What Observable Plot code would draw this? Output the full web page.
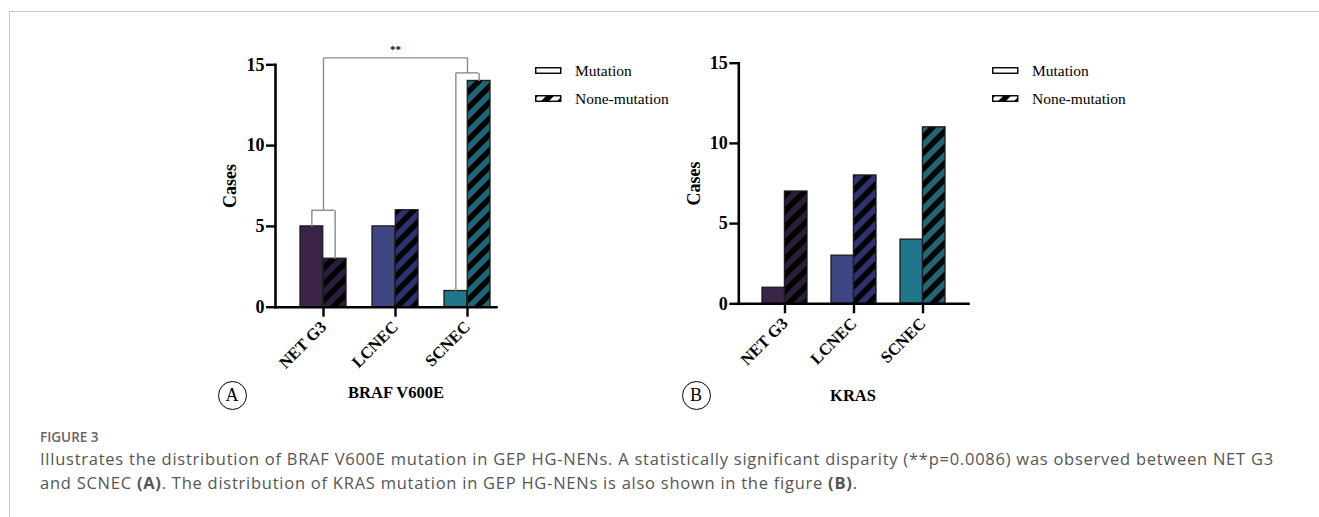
<!DOCTYPE html>
<html>
<head>
<meta charset="utf-8">
<script src="https://cdn.jsdelivr.net/npm/d3@7"></script>
<script src="https://cdn.jsdelivr.net/npm/@observablehq/plot@0.6"></script>
<style>
html, body { margin: 0; padding: 0; background: #fff; }
#fig { position: relative; width: 1319px; height: 517px; overflow: hidden; font-family: "Liberation Serif", serif; color: #000; }
.border { position: absolute; left: 9px; top: 11px; width: 1330px; height: 520px; border-top: 1px solid #c8c8c8; border-left: 1px solid #c8c8c8; }
.leg { position: absolute; font-size: 15.5px; line-height: 18px; white-space: nowrap; }
.leg svg { position: absolute; }
.leg span { position: absolute; }
.circ { position: absolute; box-sizing: border-box; width: 29px; height: 29px; border: 1.6px solid #000; border-radius: 50%; text-align: center; font-size: 18px; line-height: 27px; }
.ptitle { position: absolute; font-weight: bold; font-size: 16.5px; transform: translateX(-50%); white-space: nowrap; }
.cap { position: absolute; left: 40px; font-family: "Open Sans", sans-serif; color: #555; white-space: nowrap; }
#figno { top: 428px; font-size: 13.5px; line-height: 18px; font-weight: 600; color: #666; }
#captext { top: 447px; font-size: 16.5px; letter-spacing: 0.75px; line-height: 24px; }
</style>
</head>
<body>
<svg width="0" height="0" style="position:absolute">
  <defs>
    <pattern id="hatch" patternUnits="userSpaceOnUse" width="16" height="16">
      <path d="M-4,4 L4,-4 M0,16 L16,0 M12,20 L20,12" stroke="#000" stroke-width="5.5"/>
    </pattern>
  </defs>
</svg>
<div id="fig">
  <div class="border"></div>
</div>
<script>
// ---- data ----
const categories = ["NET G3", "LCNEC", "SCNEC"];
const legendLabels = ["Mutation", "None-mutation"];
const brafMutation = [5, 5, 1];
const brafNone = [3, 6, 14];
const krasMutation = [1, 3, 4];
const krasNone = [7, 8, 11];
const yTicks = [0, 5, 10, 15];
const mutationFill = ["#3b2448", "#3d4583", "#207789"];
const noneFill = ["#2c1c3c", "#2f3272", "#1e6676"];
// significance annotation (panel A)
const sigGroups = ["NET G3", "SCNEC"];
const sigGroupTops = [6, 14.5];
const sigTop = 15.43;
const sigLabel = "**";
const panelTitles = ["BRAF V600E", "KRAS"];
const panelLetters = ["A", "B"];
const captionHead = "FIGURE 3";
const captionLines = [
  "Illustrates the distribution of BRAF V600E mutation in GEP HG-NENs. A statistically significant disparity (**p=0.0086) was observed between NET G3",
  "and SCNEC <b>(A)</b>. The distribution of KRAS mutation in GEP HG-NENs is also shown in the figure <b>(B)</b>."
];

const fig = document.getElementById("fig");

function makePanel(o) {
  const rows = categories.map((c, i) => ({cat: c, mut: o.mut[i], none: o.none[i], mf: mutationFill[i], nf: noneFill[i]}));
  const xOpts = {type: "band", domain: categories, range: [o.ml, o.w - o.mr], paddingInner: o.pi, paddingOuter: o.po, align: o.align};
  const bw = Plot.scale({x: xOpts}).bandwidth;
  const barStroke = {stroke: "#1b1b1b", strokeWidth: 1.3};
  const marks = [
    Plot.barY(rows, {x: "cat", y: "mut", fill: "mf", insetRight: bw / 2, ...barStroke}),
    Plot.barY(rows, {x: "cat", y: "none", fill: "nf", insetLeft: bw / 2}),
    Plot.barY(rows, {x: "cat", y: "none", fill: "url(#hatch)", insetLeft: bw / 2, ...barStroke}),
    Plot.frame({anchor: "left", strokeWidth: 2.6, stroke: "#000"}),
    Plot.frame({anchor: "bottom", strokeWidth: 2.6, stroke: "#000"}),
    Plot.axisY({ticks: yTicks, tickSize: 9, tickPadding: 2, strokeWidth: 2.4, fontSize: 18,
      label: "Cases", labelAnchor: "center", labelOffset: o.labelOffset, labelArrow: "none"}),
    Plot.axisX({tickSize: 10, tickPadding: 7, strokeWidth: 2.4, tickRotate: -45, fontSize: 16.5, label: null})
  ];
  if (o.sig) {
    const br = sigGroups.map((g, k) => {
      const i = categories.indexOf(g);
      return {cat: g, top: sigGroupTops[k], mut: o.mut[i], none: o.none[i]};
    });
    const q = bw / 4;
    const st = {stroke: "#8a8a8a", strokeWidth: 1.4};
    const mid = categories[(categories.indexOf(sigGroups[0]) + categories.indexOf(sigGroups[1])) / 2];
    marks.push(
      Plot.link(br, {x1: "cat", x2: "cat", y1: "mut", y2: "top", dx: -q, ...st}),
      Plot.link(br, {x1: "cat", x2: "cat", y1: "none", y2: "top", dx: q, ...st}),
      Plot.tickY(br, {x: "cat", y: "top", insetLeft: q, insetRight: q, ...st}),
      Plot.link(br, {x1: "cat", x2: "cat", y1: "top", y2: () => sigTop, ...st}),
      Plot.link([sigGroups], {x1: d => d[0], x2: d => d[1], y1: () => sigTop, y2: () => sigTop, ...st}),
      Plot.text([sigLabel], {x: () => mid, y: () => sigTop, text: d => d, lineAnchor: "bottom", dy: -5, fontSize: 11, fontWeight: "bold"})
    );
  }
  const svg = Plot.plot({
    width: o.w, height: o.h,
    marginLeft: o.ml, marginRight: o.mr, marginTop: o.mt, marginBottom: o.mb,
    x: xOpts,
    y: {domain: [0, 15]},
    style: {fontFamily: "'Liberation Serif', serif", fontWeight: "bold", fontSize: "16.5px", color: "#000",
      background: "transparent", overflow: "visible", position: "absolute", left: o.left + "px", top: "0px"},
    marks
  });
  fig.appendChild(svg);
}

makePanel({mut: brafMutation, none: brafNone, left: 0, w: 520, h: 420, ml: 275, mr: 24, mt: 64.3, mb: 113.3,
  pi: 0.355, po: 0.208, align: 0.833, labelOffset: 52, sig: true});
makePanel({mut: krasMutation, none: krasNone, left: 660, w: 330, h: 420, ml: 78.3, mr: 22, mt: 62.7, mb: 116.7,
  pi: 0.35, po: 0.339, align: 0.5, labelOffset: 52, sig: false});

// legends
function legend(x, y) {
  const d = document.createElement("div");
  d.className = "leg";
  d.style.left = x + "px"; d.style.top = y + "px";
  d.innerHTML =
    `<svg width="27" height="8" style="left:0;top:0"><rect x="0.75" y="0.75" width="25" height="5.5" fill="#fff" stroke="#000" stroke-width="1.4"/></svg>` +
    `<span style="left:40px;top:-5px">${legendLabels[0]}</span>` +
    `<svg width="27" height="8" style="left:0;top:28px"><rect x="0.75" y="0.75" width="25" height="5.5" fill="#fff"/><rect x="0.75" y="0.75" width="25" height="5.5" fill="url(#hatch)" stroke="#000" stroke-width="1.4"/></svg>` +
    `<span style="left:40px;top:23px">${legendLabels[1]}</span>`;
  fig.appendChild(d);
}
legend(535, 67);
legend(992, 67);

// panel letters and titles
function addDiv(cls, html, css, id) {
  const d = document.createElement("div");
  d.className = cls; d.innerHTML = html;
  Object.assign(d.style, css);
  if (id) d.id = id;
  fig.appendChild(d);
}
addDiv("circ", panelLetters[0], {left: "217.5px", top: "380.5px"});
addDiv("circ", panelLetters[1], {left: "681.5px", top: "380.5px"});
addDiv("ptitle", panelTitles[0], {left: "396px", top: "383px"});
addDiv("ptitle", panelTitles[1], {left: "853px", top: "386px"});

// caption
addDiv("cap", captionHead, {}, "figno");
addDiv("cap", captionLines.join("<br>"), {}, "captext");
</script>
</body>
</html>
